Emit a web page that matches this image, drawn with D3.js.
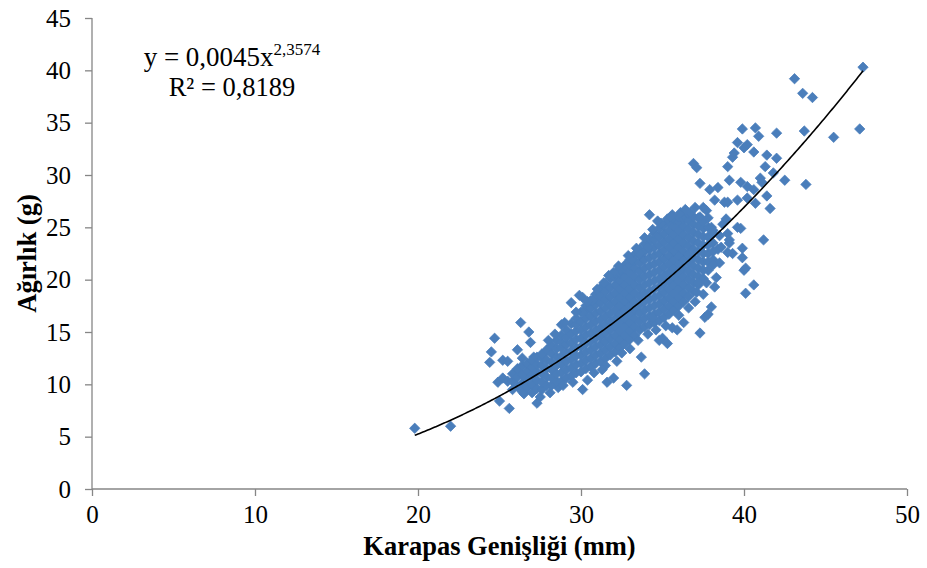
<!DOCTYPE html>
<html><head><meta charset="utf-8">
<script src="https://cdn.jsdelivr.net/npm/d3@7"></script>
<style>body{margin:0;background:#fff}svg{display:block}</style>
</head><body><svg id="c" width="927" height="568"></svg>
<script>
// ---- tick labels ----
const xTicks = [0, 10, 20, 30, 40, 50];
const yTicks = [0, 5, 10, 15, 20, 25, 30, 35, 40, 45];
const xTitle = "Karapas Genişliği (mm)";
const yTitle = "Ağırlık (g)";
// ---- trend line (power) as printed on the chart ----
const trendA = 0.0045, trendB = 2.3574;
const trendText = ["y = 0,0045x", "2,3574"];
const r2Text = "R² = 0,8189";
const trendRange = [19.8, 47.3];

// ---- observations [width (mm), weight (g)] ----
const lowOutliers = [[19.8,5.8],[22.0,6.0]];
const leftFringe = [
[24.4,12.1],[24.5,13.1],[24.7,14.4],[25.2,12.3],[25.5,12.2],[26.1,13.3],[26.4,12.5],[27.1,12.6],
[26.3,15.9],[26.8,15.0],[26.9,14.0],[27.7,12.9],[28.8,15.7],[24.9,10.2],[25.2,10.6],[25.5,10.3],
[25.9,11.0],[26.1,11.3],[25.0,8.4],[25.6,7.7],[27.3,8.2],[27.5,8.8],[28.1,9.2],[26.5,9.1],[28.6,9.7]
];
// dense band: first value = width, following values = weights at that width
const denseBand = [
[25.8, 9.5,10.3,11.0],
[26.1, 9.8,10.7,11.5],
[26.4, 9.3,10.1,10.9,11.8],
[26.7, 9.7,10.5,11.3,12.0],
[27.0, 9.2,10.0,10.9,11.6,12.3],
[27.3, 9.6,10.4,11.2,11.9,12.6],
[27.6, 9.5,10.2,11.0,11.8,12.5,12.9],
[27.9, 9.9,10.7,11.5,12.3,13.3],
[28.2, 9.9,10.6,11.4,12.1,12.9,13.7],
[28.5, 10.3,11.0,11.8,12.6,13.4,14.2],
[28.8, 10.3,11.1,11.9,12.7,13.5,14.0,14.7],
[29.1, 10.6,11.4,12.2,13.0,13.8,14.5,15.2],
[29.4, 10.8,11.6,12.4,13.2,14.0,14.8,15.8],
[29.7, 11.1,11.9,12.7,13.5,14.3,15.1,15.7,16.3],
[30.0, 11.2,12.0,12.8,13.6,14.4,15.2,16.0,16.9],
[30.3, 11.5,12.3,13.1,13.9,14.7,15.5,16.3,17.0,17.5],
[30.6, 11.7,12.5,13.3,14.1,14.9,15.7,16.5,17.3,18.0],
[30.9, 12.0,12.8,13.6,14.4,15.2,16.0,16.8,17.6,18.2,18.6],
[31.2, 12.2,13.0,13.8,14.6,15.4,16.2,17.0,17.8,18.5,19.2],
[31.5, 12.5,13.3,14.1,14.9,15.7,16.5,17.3,18.1,18.9,19.6],
[31.8, 12.8,13.6,14.4,15.2,16.0,16.8,17.6,18.4,19.2,20.1],
[32.1, 13.1,13.9,14.7,15.5,16.3,17.1,17.9,18.7,19.5,20.2,20.6],
[32.4, 13.5,14.3,15.1,15.9,16.7,17.5,18.3,19.1,19.9,20.6,21.0],
[32.7, 13.9,14.7,15.5,16.3,17.1,17.9,18.7,19.5,20.3,21.0,21.4],
[33.0, 14.3,15.1,15.9,16.7,17.5,18.3,19.1,19.9,20.7,21.4,21.9],
[33.3, 14.7,15.5,16.3,17.1,17.9,18.7,19.5,20.3,21.1,21.8,22.4],
[33.6, 15.2,16.0,16.8,17.6,18.4,19.2,20.0,20.8,21.6,22.3,22.9],
[33.9, 15.5,16.3,17.1,17.9,18.7,19.5,20.3,21.1,21.9,22.7,23.4],
[34.2, 15.7,16.5,17.3,18.1,18.9,19.7,20.5,21.3,22.1,22.9,23.6,23.9],
[34.5, 15.9,16.7,17.5,18.3,19.1,19.9,20.7,21.5,22.3,23.1,23.8,24.4],
[34.8, 16.1,16.9,17.7,18.5,19.3,20.1,20.9,21.7,22.5,23.3,24.1,24.9],
[35.1, 16.4,17.2,18.0,18.8,19.6,20.4,21.2,22.0,22.8,23.6,24.4,25.2],
[35.4, 16.7,17.5,18.3,19.1,19.9,20.7,21.5,22.3,23.1,23.9,24.7,25.5],
[35.7, 17.1,17.9,18.7,19.5,20.3,21.1,21.9,22.7,23.5,24.3,25.1,25.8],
[36.0, 17.5,18.3,19.1,19.9,20.7,21.5,22.3,23.1,23.9,24.7,25.5,26.0],
[36.3, 17.9,18.7,19.5,20.3,21.1,21.9,22.7,23.5,24.3,25.1,25.8,26.2],
[36.6, 18.4,19.2,20.0,20.8,21.6,22.4,23.2,24.0,24.8,25.6,26.3],
[36.9, 18.9,19.7,20.5,21.3,22.1,22.9,23.7,24.5,25.3,26.0],
[37.2, 19.5,20.3,21.1,21.9,22.7,23.5,24.3,25.1,25.9],
[37.5, 20.1,20.9,21.7,22.5,23.3,24.1,24.9,25.5],
[37.8, 20.9,21.7,22.5,23.3,24.1,25.0],
[38.1, 21.9,22.7,23.5,24.4]
];
const upperFringe = [
[29.4,17.8],[29.9,18.5],[30.1,18.3],[30.7,18.0],[30.1,16.9],[31.4,19.7],[32.0,20.7],[33.1,21.9],
[33.6,22.5],[34.1,23.1],[34.2,26.2],[34.9,25.4],[35.3,25.8],[35.6,26.2],[36.1,26.4],[36.7,26.4],
[37.3,26.0],[37.5,26.9],[37.7,26.6],[37.8,25.9],[38.0,25.0],[38.1,24.7],[38.5,24.2],[39.0,24.4],
[39.1,23.8],[39.1,23.5],[39.6,25.0],[39.8,24.9],[39.9,23.0],[39.9,22.1],[39.3,22.5],[39.0,22.6],
[38.5,21.6],[38.1,21.4],[38.3,20.2],[40.0,20.9],[40.1,21.1],[40.6,19.5],[40.1,18.7],[41.2,23.8],
[28.0,14.2],[28.4,14.8],[29.0,15.9],[29.7,16.9],[30.4,17.9],[31.0,19.1],[31.7,20.4],[32.3,21.3],
[32.9,22.3],[33.4,23.0],[33.9,24.0],[34.4,24.8],[34.7,25.6],[35.5,26.0],[36.4,26.7],[37.0,26.9],
[38.4,22.9],[38.6,23.1],[38.7,25.3],[38.9,25.8]
];
const lowerFringe = [
[30.1,9.5],[30.4,10.4],[31.6,10.2],[32.0,10.6],[32.8,9.9],[31.5,11.8],[32.5,13.0],[33.7,12.6],
[33.9,11.0],[34.8,14.2],[35.3,13.9],[35.0,14.4],[35.6,15.4],[35.9,15.2],[36.3,15.9],[34.4,16.4],
[37.3,14.9],[37.6,16.4],[37.8,16.7],[38.0,17.4],[37.2,19.7],[37.7,19.7],[37.1,18.8],
[28.9,9.9],[29.5,10.2],[30.8,11.1],[31.3,11.4],[32.2,12.2],[33.0,13.4],[33.5,14.2],[34.1,14.8],
[34.6,15.2],[35.2,15.6],[36.0,16.6],[36.6,17.3],[37.0,17.9],[37.5,18.6],[38.2,19.3]
];
const upperTail = [
[36.9,31.1],[37.1,30.7],[37.3,29.2],[37.9,28.6],[38.4,28.8],[38.2,27.6],[38.8,27.4],[39.0,27.4],
[39.6,27.6],[40.2,27.8],[40.7,27.3],[41.4,28.0],[41.6,26.8],[39.3,31.7],[39.4,32.1],[39.0,30.8],
[39.1,29.5],[39.8,29.3],[40.2,28.9],[40.6,28.6],[40.6,32.2],[41.4,31.9],[41.3,30.8],[41.8,30.2],
[41.0,29.7],[41.1,29.3],[42.0,31.6],[42.5,29.5],[43.8,29.1],[39.6,33.1],[40.0,32.6],[40.2,32.9],
[39.9,34.4],[40.7,34.5],[40.9,33.7],[42.0,34.0],[43.7,34.2],[43.1,39.2],[43.6,37.8],[44.2,37.4],
[45.5,33.6],[47.1,34.4],[47.3,40.3]
];

const bandPoints = denseBand.flatMap(c => c.slice(1).map(w => [c[0], w]));
const points = [].concat(lowOutliers, leftFringe, bandPoints, upperFringe, lowerFringe, upperTail);

// ---- drawing ----
const svg = d3.select("#c");
const W = 927, H = 568;
const m = {left: 92, right: 20, top: 18, bottom: 79};
const x = d3.scaleLinear().domain([0, 50]).range([m.left, W - m.right]);
const y = d3.scaleLinear().domain([0, 45]).range([H - m.bottom, m.top]);
const axisColor = "#868686";
const markerColor = "#4A7EBB";
const serif = "'Liberation Serif','Times New Roman',serif";

// points
const diamond = d3.symbol().type(d3.symbolSquare).size(54);
svg.append("g").selectAll("path").data(points).join("path")
  .attr("d", diamond)
  .attr("transform", d => `translate(${x(d[0])},${y(d[1])}) rotate(45)`)
  .attr("fill", markerColor).attr("stroke", markerColor).attr("stroke-width", 0.7);

// axes
const xAxis = svg.append("g").attr("transform", `translate(0,${y(0)})`)
  .call(d3.axisBottom(x).tickValues(xTicks).tickSize(7).tickPadding(9).tickFormat(d3.format("d")));
const yAxis = svg.append("g").attr("transform", `translate(${x(0)},0)`)
  .call(d3.axisLeft(y).tickValues(yTicks).tickSize(7).tickPadding(14).tickFormat(d3.format("d")));
[xAxis, yAxis].forEach(g => {
  g.selectAll(".domain").attr("stroke", axisColor).attr("stroke-width", 1.3);
  g.selectAll(".tick line").attr("stroke", axisColor).attr("stroke-width", 1.3);
  g.selectAll(".tick text").attr("fill", "#000").style("font-family", serif).style("font-size", "25px");
});
yAxis.select(".domain").attr("d", `M-0,${y(45)}V${y(0)}`);
xAxis.select(".domain").attr("d", `M${x(0)},0H${x(50)}`);

// trend line
const tx = d3.range(trendRange[0], trendRange[1] + 0.001, 0.1);
svg.append("path")
  .datum(tx.map(v => [v, trendA * Math.pow(v, trendB)]))
  .attr("d", d3.line().x(d => x(d[0])).y(d => y(d[1])))
  .attr("fill", "none").attr("stroke", "#000").attr("stroke-width", 1.6);

// equation
const eq = svg.append("text").attr("x", 232).attr("y", 66).attr("text-anchor", "middle")
  .style("font-family", serif).style("font-size", "27px");
eq.append("tspan").text(trendText[0]);
eq.append("tspan").attr("dy", -11).style("font-size", "17px").text(trendText[1]);
svg.append("text").attr("x", 232).attr("y", 96).attr("text-anchor", "middle")
  .style("font-family", serif).style("font-size", "26.5px").text(r2Text);

// axis titles
svg.append("text").attr("x", (x(0) + x(50)) / 2).attr("y", 555).attr("text-anchor", "middle")
  .style("font-family", serif).style("font-size", "26.5px").style("font-weight", "bold").text(xTitle);
svg.append("text").attr("transform", `translate(36,${(y(0) + y(45)) / 2}) rotate(-90)`)
  .attr("text-anchor", "middle")
  .style("font-family", serif).style("font-size", "26.5px").style("font-weight", "bold").text(yTitle);
</script>
</body></html>
